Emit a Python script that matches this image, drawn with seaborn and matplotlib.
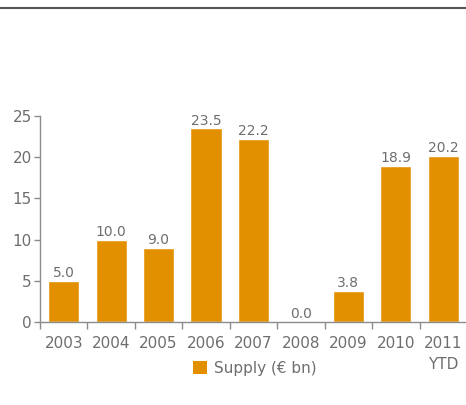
import matplotlib
matplotlib.use("Agg")
import matplotlib.pyplot as plt
from matplotlib.lines import Line2D
from matplotlib.patches import Patch
import seaborn as sns
import pandas as pd

years = ["2003", "2004", "2005", "2006", "2007", "2008", "2009", "2010", "2011\nYTD"]
supply = [5.0, 10.0, 9.0, 23.5, 22.2, 0.0, 3.8, 18.9, 20.2]
series_name = "Supply (€ bn)"
y_ticks = [0, 5, 10, 15, 20, 25]

bar_color = "#E39000"
text_color = "#6E6E6E"
axis_color = "#8C8C8C"

sns.set_theme(style="white")
plt.rcParams["font.family"] = ["DejaVu Sans"]

df = pd.DataFrame({"year": years, "supply": supply})

fig = plt.figure(figsize=(4.66, 4.05), dpi=100)
ax = fig.add_axes([40 / 466, 1 - 322 / 405, 427 / 466, 206 / 405])

sns.barplot(data=df, x="year", y="supply", color=bar_color, saturation=1,
            width=0.66, ax=ax, zorder=2)

for i, v in enumerate(supply):
    ax.text(i, v + 0.1, f"{v:.1f}", ha="center", va="bottom",
            fontsize=10, color=text_color)

ax.set_xlim(-0.5, len(years) - 0.5)
ax.set_ylim(0, 25)
ax.set_yticks(y_ticks)
ax.set_yticklabels([str(t) for t in y_ticks])
ax.set_xlabel("")
ax.set_ylabel("")

for s in ["top", "right"]:
    ax.spines[s].set_visible(False)
for s in ["left", "bottom"]:
    ax.spines[s].set_color(axis_color)
    ax.spines[s].set_linewidth(1.0)

ax.tick_params(axis="y", which="both", length=4, width=1, color=axis_color,
               labelsize=11, labelcolor=text_color, pad=2, left=True)
# category labels without ticks; boundary ticks as minor ticks
ax.tick_params(axis="x", which="major", length=0, labelsize=11,
               labelcolor=text_color, pad=10)
for lbl in ax.get_xticklabels():
    lbl.set_linespacing(1.5)
ax.set_xticks([i - 0.5 for i in range(len(years))], minor=True)
ax.tick_params(axis="x", which="minor", length=5, width=1, color=axis_color,
               direction="out", bottom=True)

# horizontal rule across the top
fig.add_artist(Line2D([0, 1], [1 - 7.5 / 405, 1 - 7.5 / 405],
                      transform=fig.transFigure, color="#555555", linewidth=1.5))

handles = [Patch(facecolor=bar_color, edgecolor="none", label=series_name)]
fig.legend(handles=handles, loc="center", bbox_to_anchor=(255 / 466, 1 - 368 / 405),
           frameon=False, fontsize=11, labelcolor=text_color,
           handlelength=0.9, handleheight=0.9, handletextpad=0.5)

fig.savefig("out.png", dpi=100)
